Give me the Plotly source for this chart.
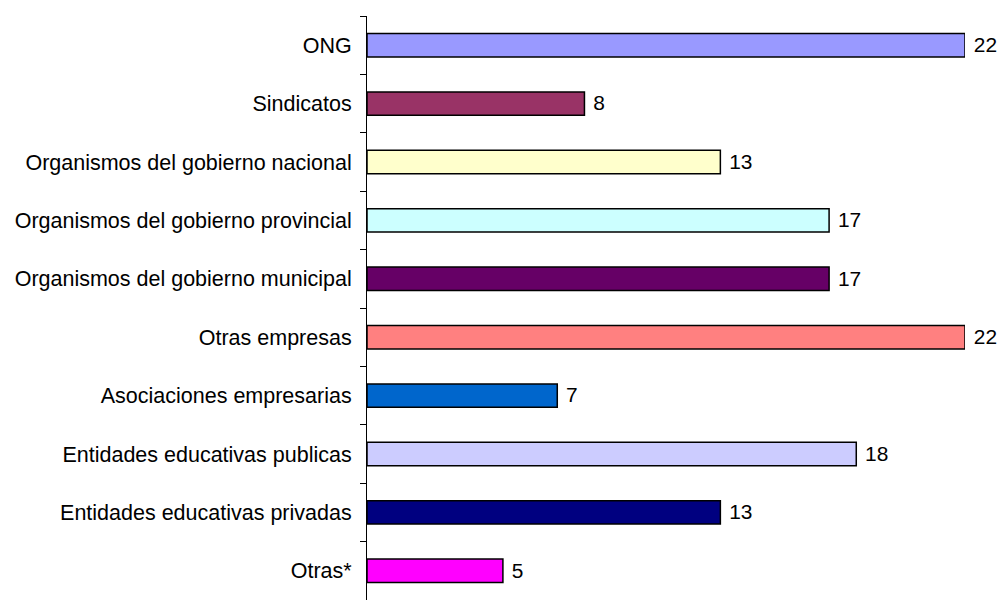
import plotly.graph_objects as go

categorias = [
    "ONG",
    "Sindicatos",
    "Organismos del gobierno nacional",
    "Organismos del gobierno provincial",
    "Organismos del gobierno municipal",
    "Otras empresas",
    "Asociaciones empresarias",
    "Entidades educativas publicas",
    "Entidades educativas privadas",
    "Otras*",
]
valores = [22, 8, 13, 17, 17, 22, 7, 18, 13, 5]
colores = ["#9999FF", "#993366", "#FFFFCC", "#CCFFFF", "#660066",
           "#FF8080", "#0066CC", "#CCCCFF", "#000080", "#FF00FF"]

fig = go.Figure(go.Bar(
    x=valores,
    y=categorias,
    orientation="h",
    marker=dict(color=colores, line=dict(color="black", width=1.5)),
    texttemplate="\u00a0%{x}",
    textposition="outside",
    cliponaxis=False,
    textfont=dict(color="black", size=21.5),
))

fig.update_layout(
    width=1000, height=600,
    margin=dict(l=367, r=35, t=16, b=0),
    plot_bgcolor="white", paper_bgcolor="white",
    font=dict(family="Liberation Sans, Arial, sans-serif", size=21.5, color="black"),
    bargap=0.6,
    showlegend=False,
)
fig.update_xaxes(range=[0, 22], visible=False)
fig.update_yaxes(
    autorange="reversed",
    showline=True, linecolor="black", linewidth=1,
    ticks="outside", tickson="boundaries", ticklen=6, tickcolor="black",
    ticklabelstandoff=10, showgrid=False,
)

# drop the default body margin so the 1000x600 figure fits the window without scrollbars
fig.write_html("out.html", config={"displayModeBar": False},
               post_script="document.body.style.margin='0';")
